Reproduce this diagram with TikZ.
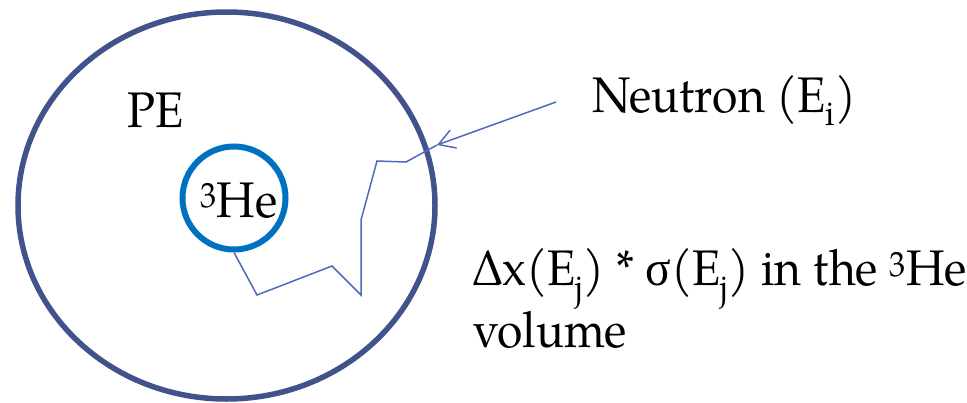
\documentclass[tikz,border=0pt]{standalone}
\usepackage{fontspec}
\setmainfont{texgyrepagella}[Extension=.otf, UprightFont=*-regular, ItalicFont=*-italic, BoldFont=*-bold, BoldItalicFont=*-bolditalic, FakeStretch=0.925]
\newfontfamily\greekfont{Liberation Serif}[FakeStretch=0.95]
\usetikzlibrary{positioning, shapes.geometric, arrows.meta}
\definecolor{pering}{RGB}{66,82,138}
\definecolor{hering}{RGB}{0,112,192}
\definecolor{track}{RGB}{79,106,189}

\begin{document}
\begin{tikzpicture}[x=1pt, y=-1pt,
  lbl/.style={inner sep=0pt, anchor=base west, font=\fontsize{50}{50}\selectfont},
  walk/.style={draw=track, line width=1.5pt}]
\useasboundingbox (0,0) rectangle (967,402);

% Detector: PE moderator and 3He counter
\node[ellipse, draw=pering, line width=5.5pt, minimum width=417pt, minimum height=387pt, inner sep=0pt] (pe) at (226.5,205.5) {};
\node[circle, draw=hering, line width=6pt, minimum size=103pt, inner sep=0pt] (he) at (234,198) {};
\node[lbl] (pelabel) at (127,127) {PE};
\node[lbl] (helabel) at (200,217) {\textsuperscript{3}He};

% Neutron track
\node[lbl] (neutron) at (592,112) {Neutron (E\textsubscript{i})};
\coordinate (src) at (556,102);
\coordinate (entry) at (437,145);
\draw[walk, -{Straight Barb[length=16pt, width=19pt]}] (src) -- (entry);
\draw[walk] (entry) -- (406,162) -- (377,161) -- (361,220) -- (361,295) -- (332,266) -- (257,295) -- (he.south);

% Detection probability (base = last line)
\node[lbl, align=left] (xsec) at (473,347) {Δx(E\textsubscript{j}) * {\greekfont σ}(E\textsubscript{j}) in the \textsuperscript{3}He\\volume};

\end{tikzpicture}
\end{document}
